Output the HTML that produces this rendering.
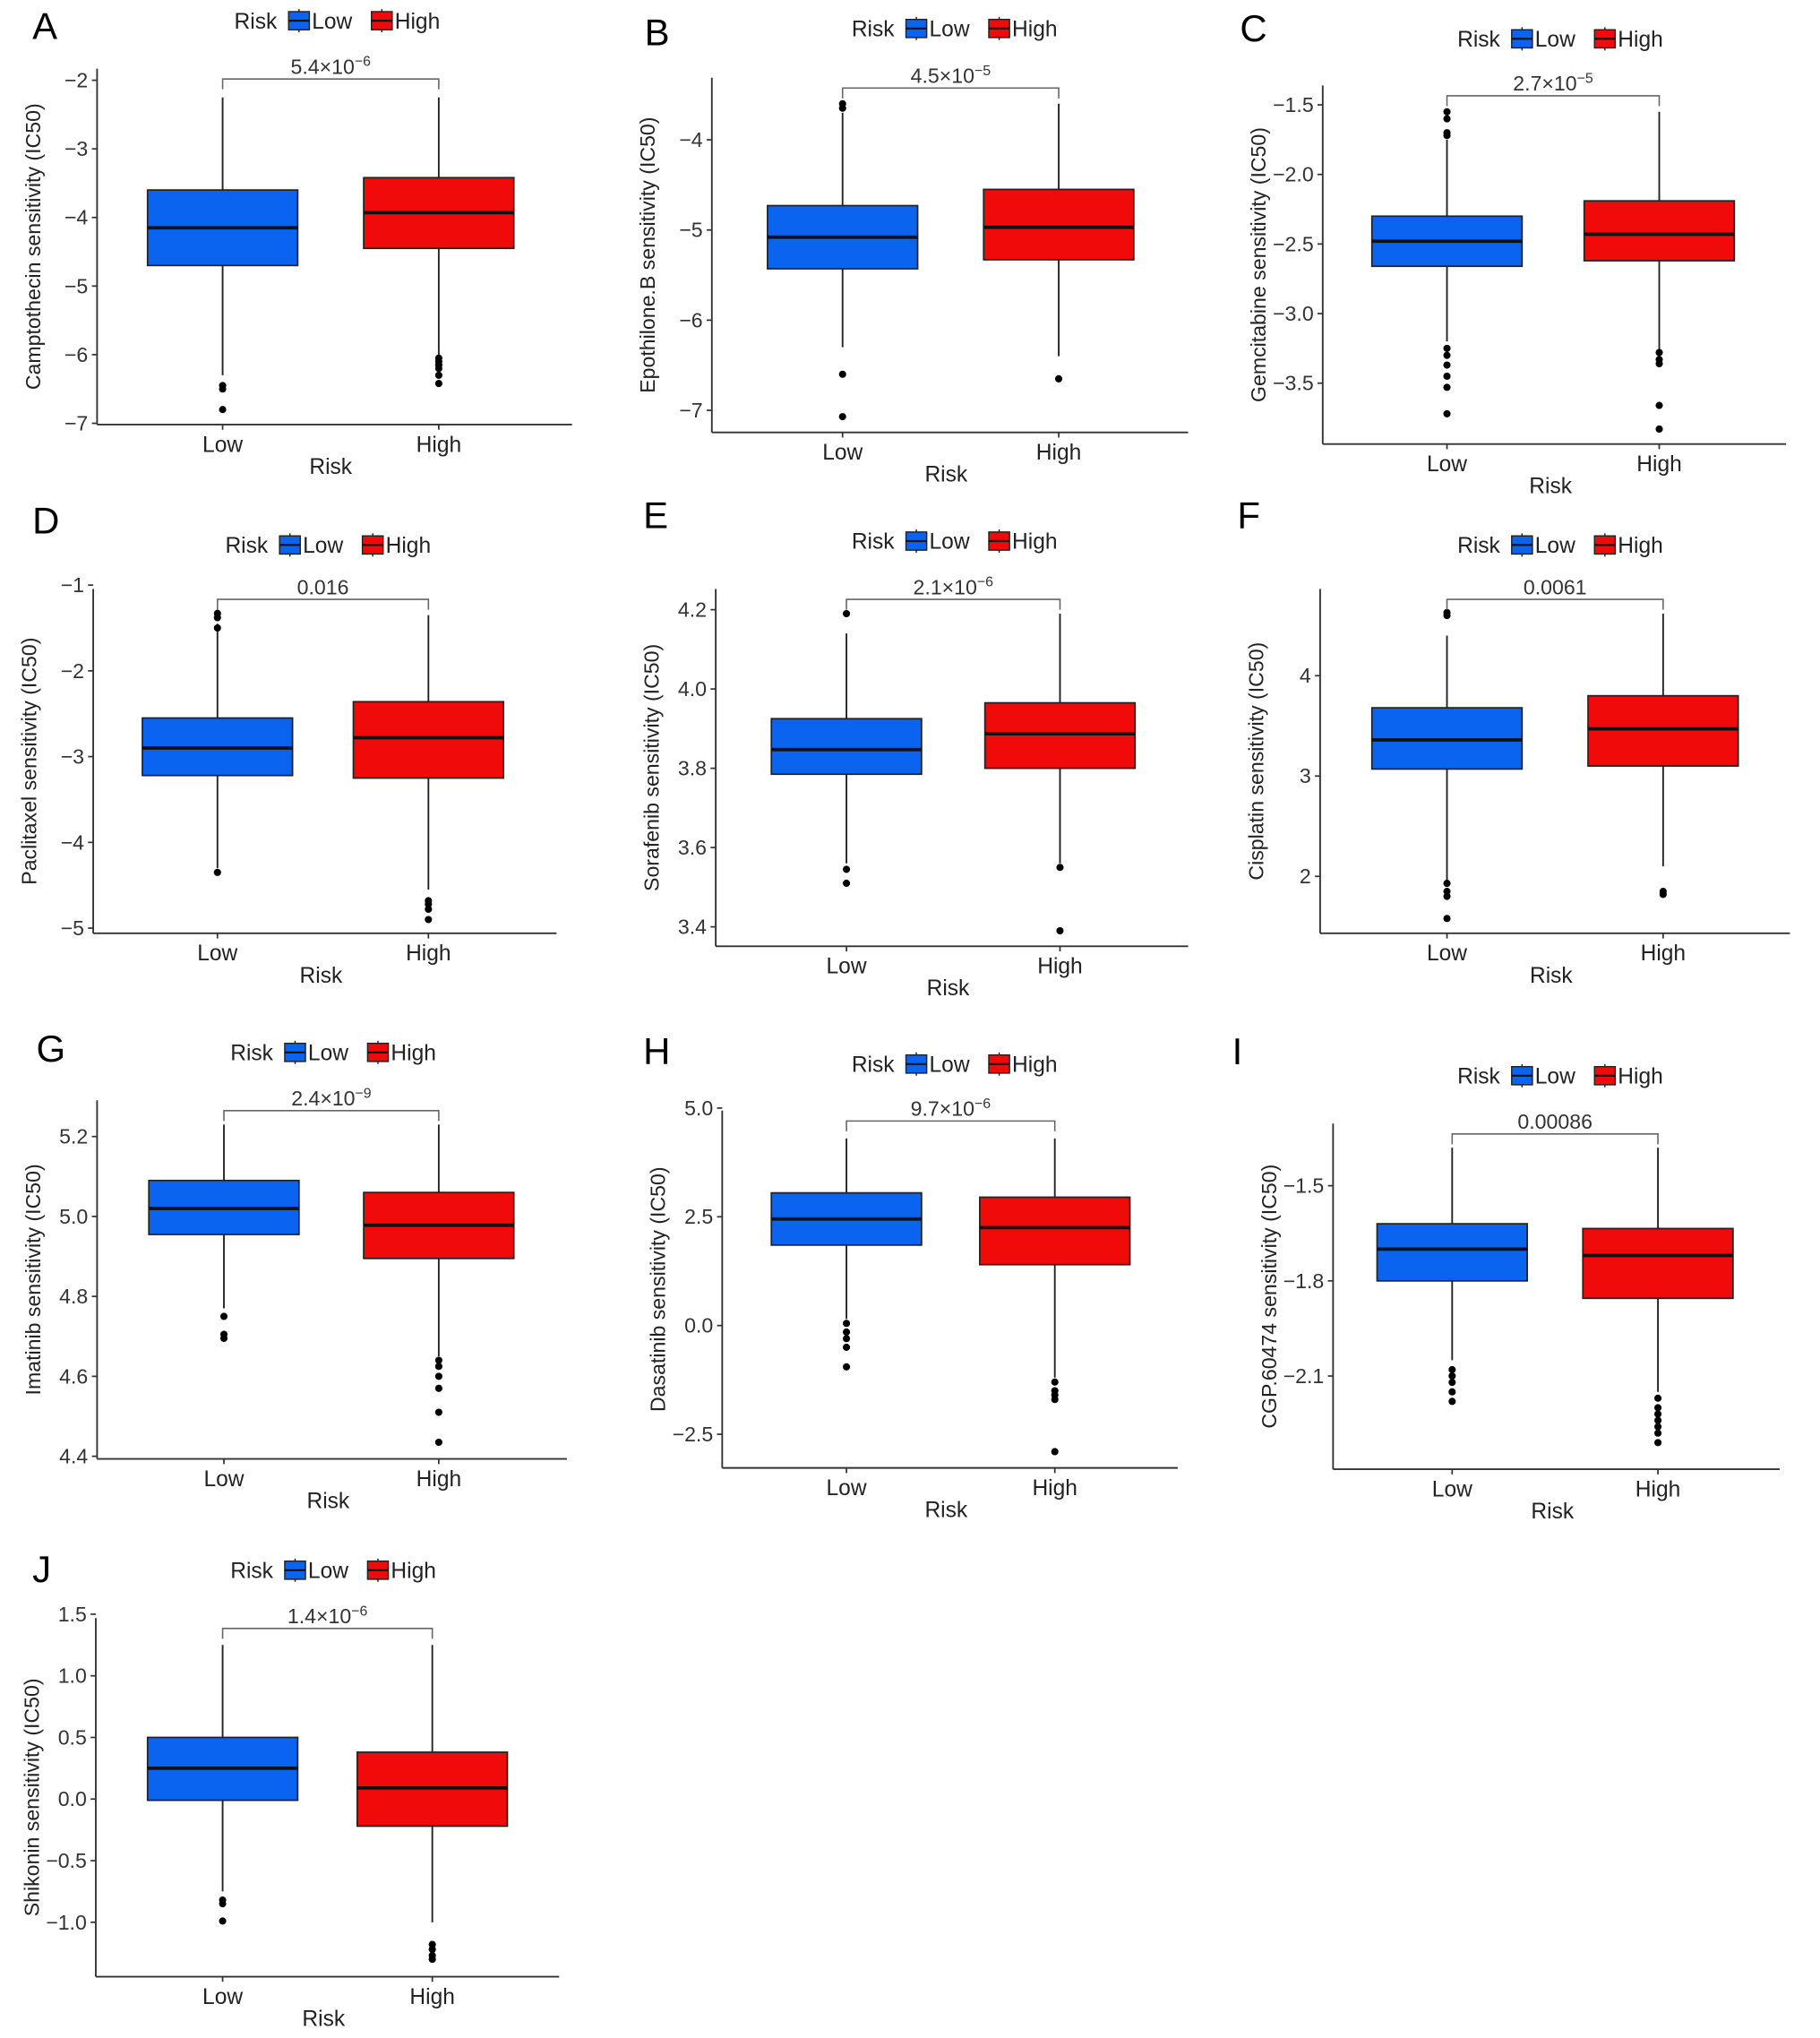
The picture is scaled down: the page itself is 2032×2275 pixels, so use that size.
<!DOCTYPE html>
<html><head><meta charset="utf-8"><style>
html,body{margin:0;padding:0;background:#fff}
svg{display:block}
text{font-family:"Liberation Sans",Arial,sans-serif}
</style></head><body>
<svg id="fig" width="2032" height="2275" viewBox="0 0 1406.2 1574.4" xmlns="http://www.w3.org/2000/svg"></svg>
<script>
// ---- data (values in IC50 units) ----
const panelLetters = ["A","B","C","D","E","F","G","H","I","J"];
const yTitles = ["Camptothecin sensitivity (IC50)","Epothilone.B sensitivity (IC50)","Gemcitabine sensitivity (IC50)","Paclitaxel sensitivity (IC50)","Sorafenib sensitivity (IC50)","Cisplatin sensitivity (IC50)","Imatinib sensitivity (IC50)","Dasatinib sensitivity (IC50)","CGP.60474 sensitivity (IC50)","Shikonin sensitivity (IC50)"];
const pMantissa = ["5.4","4.5","2.7","0.016","2.1","0.0061","2.4","9.7","0.00086","1.4"];
const pExponent = ["-6","-5","-5","","-6","","-9","-6","","-6"];
const tickValues = [[-2,-3,-4,-5,-6,-7],[-4,-5,-6,-7],[-1.5,-2.0,-2.5,-3.0,-3.5],[-1,-2,-3,-4,-5],[4.2,4.0,3.8,3.6,3.4],[4,3,2],[5.2,5.0,4.8,4.6,4.4],[5.0,2.5,0.0,-2.5],[-1.5,-1.8,-2.1],[1.5,1.0,0.5,0.0,-0.5,-1.0]];
const tickLabels = [["−2","−3","−4","−5","−6","−7"],["−4","−5","−6","−7"],["−1.5","−2.0","−2.5","−3.0","−3.5"],["−1","−2","−3","−4","−5"],["4.2","4.0","3.8","3.6","3.4"],["4","3","2"],["5.2","5.0","4.8","4.6","4.4"],["5.0","2.5","0.0","−2.5"],["−1.5","−1.8","−2.1"],["1.5","1.0","0.5","0.0","−0.5","−1.0"]];
// [q3, median, q1, whiskerLow, whiskerHigh]
const lowBoxes = [[-3.6,-4.15,-4.7,-6.3,-2.25],[-4.73,-5.08,-5.43,-6.3,-3.7],[-2.3,-2.48,-2.66,-3.2,-1.75],[-2.55,-2.9,-3.22,-4.3,-1.45],[3.925,3.847,3.785,3.56,4.14],[3.68,3.36,3.07,1.95,4.4],[5.09,5.02,4.955,4.77,5.23],[3.05,2.45,1.85,0.15,4.3],[-1.62,-1.70,-1.8,-2.05,-1.38],[0.5,0.25,-0.01,-0.75,1.25]];
const highBoxes = [[-3.42,-3.93,-4.45,-6.0,-2.25],[-4.55,-4.97,-5.33,-6.4,-3.6],[-2.19,-2.43,-2.62,-3.27,-1.55],[-2.36,-2.78,-3.25,-4.55,-1.35],[3.965,3.887,3.80,3.56,4.19],[3.8,3.47,3.1,2.1,4.62],[5.06,4.978,4.895,4.65,5.23],[2.95,2.25,1.4,-1.2,4.3],[-1.635,-1.72,-1.855,-2.15,-1.38],[0.38,0.09,-0.22,-1.0,1.25]];
const lowOutliers = [[-6.45,-6.5,-6.8],[-3.6,-3.65,-6.6,-7.07],[-1.55,-1.6,-1.7,-1.72,-3.25,-3.3,-3.37,-3.45,-3.53,-3.72],[-1.33,-1.38,-1.5,-4.35],[4.19,3.545,3.51],[4.6,4.63,1.93,1.85,1.8,1.58],[4.75,4.705,4.695],[0.05,-0.15,-0.3,-0.5,-0.95],[-2.08,-2.1,-2.12,-2.15,-2.18],[-0.82,-0.85,-0.99]];
const highOutliers = [[-6.05,-6.1,-6.15,-6.2,-6.3,-6.42],[-6.65],[-3.28,-3.33,-3.36,-3.66,-3.83],[-4.68,-4.72,-4.78,-4.9],[3.55,3.39],[1.85,1.82],[4.64,4.625,4.6,4.57,4.51,4.435],[-1.3,-1.5,-1.6,-1.7,-2.9],[-2.17,-2.2,-2.22,-2.24,-2.26,-2.28,-2.31],[-1.18,-1.22,-1.27,-1.3]];

// ---- layout (display units) ----
const layout = [
 [75,328,442,-2,62,-7,327,172,339,61,16,265,25,30],
 [550,334,918,-4,108,-7,317,651,818,68,22,742,498,35],
 [1022,343,1380,-1.5,81,-3.5,296,1118,1282,74,30,1210,958,32],
 [72,721,430,-1,452,-5,717,168,331,463,421,258,25,412],
 [553,731,918,4.2,471,3.4,716,654,819,463,418,742,497,408],
 [1020,721,1383,4,522,2,677,1118,1285,463,421,1210,956,408],
 [75,1127,438,5.2,878,4.4,1125,173,339,858,813,262,28,820],
 [558,1134,910,5.0,856,-2.5,1108,654,815,866,822,742,497,822],
 [1030,1135,1375,-1.5,916,-2.1,1063,1122,1281,876,831,1210,952,822],
 [74,1527,432,1.5,1247,-1.0,1485,172,334,1258,1213,262,25,1222]
];
const BLUE="#0a64f0", RED="#f00a0a", HW=58;
const NS="http://www.w3.org/2000/svg";
const svg=document.getElementById('fig');
function mk(tag,attrs,parent,txt){const e=document.createElementNS(NS,tag);for(const k in attrs)e.setAttribute(k,attrs[k]);if(txt!==undefined)e.textContent=txt;(parent||svg).appendChild(e);return e;}

for(let i=0;i<panelLetters.length;i++){
  const L=layout[i];
  const [ax,ay,ar,v0,y0,v1,y1,lx,hx,by,lgy,lgx,ltx,lty]=L;
  const yS=v=>y0+(v-v0)*(y1-y0)/(v1-v0);
  const g=mk('g',{});
  
  
  const letter=mk('text',{x:ltx,y:lty,'font-size':29,fill:'#000'},g,panelLetters[i]);
  
  
  const top=by-8;
  const yax=mk('line',{x1:ax,y1:top,x2:ax,y2:ay,stroke:'#333','stroke-width':1.3},g);
  
  
  const xax=mk('line',{x1:ax,y1:ay,x2:ar,y2:ay,stroke:'#333','stroke-width':1.3},g);
  
  
  tickValues[i].forEach((v,j)=>{
    const y=yS(v);
    mk('line',{x1:ax-4,y1:y,x2:ax,y2:y,stroke:'#333','stroke-width':1.2},g);
    const t=mk('text',{x:ax-7,y:y+5.5,'font-size':16,'text-anchor':'end',fill:'#333'},g,tickLabels[i][j]);
    
    
  });
  [[lx,'Low'],[hx,'High']].forEach(([x,s])=>{
    mk('line',{x1:x,y1:ay,x2:x,y2:ay+4,stroke:'#333','stroke-width':1.2},g);
    const t=mk('text',{x:x,y:ay+21,'font-size':17,'text-anchor':'middle',fill:'#222'},g,s);
    
    
  });
  const xt=mk('text',{x:(ax+ar)/2-3,y:ay+38,'font-size':17,'text-anchor':'middle',fill:'#222'},g,'Risk');
  
  
  const cy=(top+ay)/2, tx=ax-44;
  const yt=mk('text',{x:tx,y:cy,'font-size':16,'text-anchor':'middle',fill:'#222',transform:`rotate(-90 ${tx} ${cy})`},g,yTitles[i]);
  
  
  [[lx,lowBoxes[i],lowOutliers[i],BLUE,'low'],[hx,highBoxes[i],highOutliers[i],RED,'high']].forEach(([x,b,o,c,nm])=>{
    const w=mk('line',{x1:x,y1:yS(b[4]),x2:x,y2:yS(b[3]),stroke:'#222','stroke-width':1.3},g);
    
    
    const r=mk('rect',{x:x-HW,y:yS(b[0]),width:2*HW,height:yS(b[2])-yS(b[0]),fill:c,stroke:'#222','stroke-width':1.2},g);
    
    
    const m=mk('line',{x1:x-HW,y1:yS(b[1]),x2:x+HW,y2:yS(b[1]),stroke:'#111','stroke-width':2.6},g);
    
    
    o.forEach(v=>{
      const p=mk('circle',{cx:x,cy:yS(v),r:2.8,fill:'#000'},g);
      
      
    });
  });
  const br=mk('path',{d:`M${lx},${by+8}V${by}H${hx}V${by+8}`,fill:'none',stroke:'#666','stroke-width':1.1},g);
  
  
  const pt=mk('text',{x:(lx+hx)/2,y:by-4,'font-size':16,'text-anchor':'middle',fill:'#333'},g);
  
  
  if(pExponent[i]){
    pt.textContent=pMantissa[i]+'×10';
    mk('tspan',{dy:-6,'font-size':11},pt,pExponent[i].replace('-','−'));
  } else pt.textContent=pMantissa[i];
  const lg=mk('g',{},g);
  
  
  const lx0=lgx-84;
  mk('text',{x:lx0,y:lgy+6,'font-size':17,fill:'#222'},lg,'Risk');
  [[lx0+42,BLUE,'Low'],[lx0+106,RED,'High']].forEach(([kx,c,s])=>{
    const k=mk('rect',{x:kx,y:lgy-7,width:16,height:14,fill:c,stroke:'#222','stroke-width':1},lg);
    
    
    mk('line',{x1:kx,y1:lgy,x2:kx+16,y2:lgy,stroke:'#111','stroke-width':1.5},lg);
    mk('line',{x1:kx+8,y1:lgy-9,x2:kx+8,y2:lgy-7,stroke:'#222','stroke-width':1},lg);
    mk('line',{x1:kx+8,y1:lgy+7,x2:kx+8,y2:lgy+9,stroke:'#222','stroke-width':1},lg);
    const lt=mk('text',{x:kx+18,y:lgy+6,'font-size':17,fill:'#222'},lg,s);
    
    
  });
}
</script>
</body></html>
